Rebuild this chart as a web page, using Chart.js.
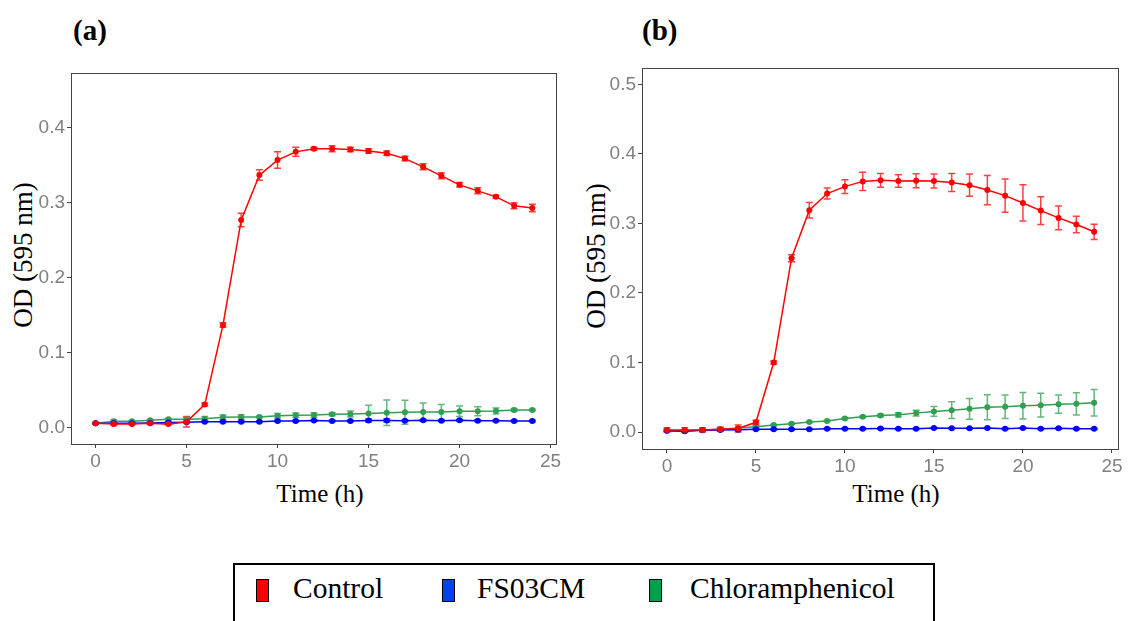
<!DOCTYPE html>
<html>
<head>
<meta charset="utf-8">
<script src="https://cdn.jsdelivr.net/npm/chart.js@4.4.1/dist/chart.umd.min.js"></script>
<style>
  body { margin: 0; background: #fff; width: 1140px; height: 621px; overflow: hidden; position: relative; }
  .cv { position: absolute; }
  .lbl { position: absolute; font-family: "Liberation Serif", "Times New Roman", serif; color: #000; white-space: nowrap; }
  .panel { font-weight: bold; font-size: 29px; }
  .ytitle { font-size: 27px; transform: translate(-50%, -50%) rotate(-90deg); }
  .xtitle { font-size: 25px; transform: translate(-50%, -50%); }
  #legend { position: absolute; left: 233px; top: 563px; width: 698px; height: 70px; border: 2px solid #000; border-bottom: none; }
  .key { position: absolute; top: 14px; width: 11px; height: 21px; border: 1.5px solid #000; }
  .ktxt { position: absolute; top: 7px; font-family: "Liberation Serif", "Times New Roman", serif; font-size: 29.5px; }
</style>
</head>
<body>
<div class="lbl panel" style="left:73px; top:14px;">(a)</div>
<div class="lbl panel" style="left:642px; top:14px;">(b)</div>
<div class="lbl ytitle" style="left:23px; top:255px;">OD (595 nm)</div>
<div class="lbl ytitle" style="left:596px; top:256px;">OD (595 nm)</div>
<div class="lbl xtitle" style="left:320px; top:494px;">Time (h)</div>
<div class="lbl xtitle" style="left:896px; top:494px;">Time (h)</div>

<canvas id="chartA" class="cv" style="left:0px; top:60px;" width="570" height="420"></canvas>
<canvas id="chartB" class="cv" style="left:580px; top:55px;" width="560" height="430"></canvas>

<div id="legend">
  <div class="key" style="left:21px; background:#ff0000;"></div>
  <div class="ktxt" style="left:58px;">Control</div>
  <div class="key" style="left:207px; background:#0044ee;"></div>
  <div class="ktxt" style="left:242px;">FS03CM</div>
  <div class="key" style="left:414px; background:#00a04c;"></div>
  <div class="ktxt" style="left:455px;">Chloramphenicol</div>
</div>

<script>
// time points (h)
var hours = [0,1,2,3,4,5,6,7,8,9,10,11,12,13,14,15,16,17,18,19,20,21,22,23,24];
var xTickValues = [0,5,10,15,20,25];

// panel (a)
var controlA = [0.006,0.005,0.005,0.006,0.005,0.008,0.031,0.137,0.277,0.337,0.357,0.368,0.372,0.372,0.371,0.369,0.366,0.359,0.348,0.336,0.324,0.316,0.308,0.296,0.293];
var controlAErr = [0.001,0.002,0.001,0.001,0.001,0.007,0.002,0.003,0.009,0.007,0.011,0.006,0.002,0.004,0.003,0.003,0.003,0.003,0.004,0.004,0.003,0.004,0.002,0.004,0.005];
var fs03cmA = [0.006,0.006,0.006,0.0065,0.007,0.0075,0.008,0.008,0.008,0.0083,0.009,0.009,0.0097,0.009,0.009,0.0097,0.0097,0.0095,0.010,0.0095,0.010,0.0095,0.0095,0.009,0.009];
var fs03cmAErr = [0.001,0.001,0.001,0.001,0.001,0.001,0.001,0.001,0.001,0.001,0.001,0.001,0.001,0.001,0.001,0.002,0.002,0.001,0.001,0.001,0.001,0.001,0.001,0.001,0.001];
var chlorA = [0.006,0.0088,0.0088,0.010,0.0114,0.0114,0.0123,0.014,0.0145,0.0145,0.016,0.0167,0.017,0.018,0.0185,0.019,0.020,0.0207,0.021,0.021,0.022,0.022,0.0224,0.0238,0.0238];
var chlorAErr = [0.001,0.002,0.001,0.001,0.001,0.002,0.003,0.003,0.003,0.001,0.003,0.003,0.003,0.002,0.004,0.011,0.017,0.016,0.012,0.010,0.007,0.006,0.004,0.002,0.001];
var yTicksA = [0.0,0.1,0.2,0.3,0.4];

// panel (b)
var controlB = [0.003,0.003,0.003,0.004,0.005,0.014,0.100,0.250,0.319,0.343,0.353,0.3605,0.362,0.361,0.3615,0.361,0.359,0.355,0.348,0.340,0.3295,0.3185,0.308,0.2985,0.288];
var controlBErr = [0.003,0.003,0.003,0.003,0.005,0.003,0.002,0.005,0.011,0.008,0.010,0.013,0.010,0.009,0.010,0.010,0.013,0.016,0.021,0.024,0.026,0.020,0.017,0.012,0.011];
var fs03cmB = [0.002,0.001,0.0024,0.003,0.0033,0.004,0.004,0.004,0.004,0.0048,0.0048,0.0048,0.005,0.0048,0.0048,0.0057,0.0053,0.0053,0.0057,0.0048,0.0057,0.0048,0.0053,0.0048,0.0048];
var fs03cmBErr = [0.001,0.001,0.001,0.001,0.001,0.001,0.001,0.001,0.001,0.001,0.001,0.001,0.001,0.001,0.001,0.001,0.001,0.001,0.001,0.001,0.001,0.001,0.001,0.001,0.001];
var chlorB = [0.002,0.0015,0.003,0.004,0.0057,0.0076,0.010,0.012,0.0143,0.016,0.0196,0.022,0.0239,0.0248,0.0272,0.0296,0.0315,0.0334,0.0358,0.0363,0.0377,0.0387,0.0401,0.0406,0.042];
var chlorBErr = [0.001,0.001,0.001,0.001,0.001,0.001,0.001,0.001,0.001,0.001,0.001,0.001,0.002,0.003,0.004,0.007,0.012,0.015,0.018,0.017,0.019,0.017,0.013,0.016,0.019];
var yTicksB = [0.0,0.1,0.2,0.3,0.4,0.5];

var RED = '#ff0000', BLUE = '#0000ff', GREEN = '#2ea04f';

var toPoints = function(vals){
  return hours.map(function(h, i){ return {x: h, y: vals[i]}; });
};

var series = function(label, vals, errs, color){
  return {
    label: label,
    data: toPoints(vals),
    errors: errs,
    borderColor: color,
    backgroundColor: color,
    borderWidth: 1.5,
    pointRadius: 3,
    pointBorderWidth: 0,
    tension: 0
  };
};

// error bars, positioned through the chart's own scales
var errorBars = {
  id: 'errorBars',
  beforeDatasetsDraw: function(chart){
    var ctx = chart.ctx, xs = chart.scales.x, ys = chart.scales.y;
    chart.data.datasets.forEach(function(ds){
      if (!ds.errors) return;
      ctx.save();
      ctx.strokeStyle = ds.borderColor;
      ctx.globalAlpha = 0.75;
      ctx.lineWidth = 1.5;
      ds.data.forEach(function(p, i){
        var e = ds.errors[i];
        var px = xs.getPixelForValue(p.x);
        var top = ys.getPixelForValue(p.y + e);
        var bot = ys.getPixelForValue(p.y - e);
        ctx.beginPath();
        ctx.moveTo(px, top); ctx.lineTo(px, bot);
        ctx.moveTo(px - 3.5, top); ctx.lineTo(px + 3.5, top);
        ctx.moveTo(px - 3.5, bot); ctx.lineTo(px + 3.5, bot);
        ctx.stroke();
      });
      ctx.restore();
    });
  }
};

// panel border like ggplot theme_bw
var panelBox = {
  id: 'panelBox',
  afterDraw: function(chart){
    var a = chart.chartArea, ctx = chart.ctx;
    ctx.save();
    ctx.strokeStyle = '#444';
    ctx.lineWidth = 1;
    ctx.strokeRect(Math.round(a.left) + 0.5, Math.round(a.top) + 0.5, Math.round(a.right - a.left), Math.round(a.bottom - a.top));
    ctx.restore();
  }
};

var make_chart = function(id, datasets, opts){
  var ctx = document.getElementById(id).getContext('2d');
  return new Chart(ctx, {
    type: 'line',
    data: { datasets: datasets },
    plugins: [errorBars, panelBox],
    options: {
      responsive: false,
      animation: false,
      layout: { padding: { top: opts.padTop, right: opts.padRight, left: 0, bottom: 0 } },
      plugins: { legend: { display: false }, tooltip: { enabled: false } },
      scales: {
        x: {
          type: 'linear',
          min: opts.xMin, max: opts.xMax,
          afterBuildTicks: function(s){ s.ticks = xTickValues.map(function(v){ return {value: v}; }); },
          afterFit: function(s){ s.height = opts.xHeight; },
          grid: { drawOnChartArea: false, drawTicks: true, tickLength: 4, color: '#444' },
          border: { color: '#444', width: 1 },
          ticks: { color: '#808080', padding: 2, font: { family: 'Liberation Sans, Arial, sans-serif', size: 19 },
                   callback: function(v){ return String(v); } }
        },
        y: {
          type: 'linear',
          min: opts.yMin, max: opts.yMax,
          afterBuildTicks: function(s){ s.ticks = opts.yTicks.map(function(v){ return {value: v}; }); },
          afterFit: function(s){ s.width = opts.yWidth; },
          grid: { drawOnChartArea: false, drawTicks: true, tickLength: 4, color: '#444' },
          border: { color: '#444', width: 1 },
          ticks: { color: '#808080', padding: 2, font: { family: 'Liberation Sans, Arial, sans-serif', size: 19 },
                   callback: function(v){ return v.toFixed(1); } }
        }
      }
    }
  });
};

make_chart('chartA', [
  series('Control', controlA, controlAErr, RED),
  series('FS03CM', fs03cmA, fs03cmAErr, BLUE),
  series('Chloramphenicol', chlorA, chlorAErr, GREEN)
], { padTop: 10, padRight: 14, xHeight: 36, yWidth: 71, xMin: -1.35, xMax: 25.3, yMin: -0.0215, yMax: 0.4726, yTicks: yTicksA });

make_chart('chartB', [
  series('Control', controlB, controlBErr, RED),
  series('FS03CM', fs03cmB, fs03cmBErr, BLUE),
  series('Chloramphenicol', chlorB, chlorBErr, GREEN)
], { padTop: 12, padRight: 22, xHeight: 36, yWidth: 62, xMin: -1.40, xMax: 25.34, yMin: -0.0244, yMax: 0.523, yTicks: yTicksB });
</script>
</body>
</html>
